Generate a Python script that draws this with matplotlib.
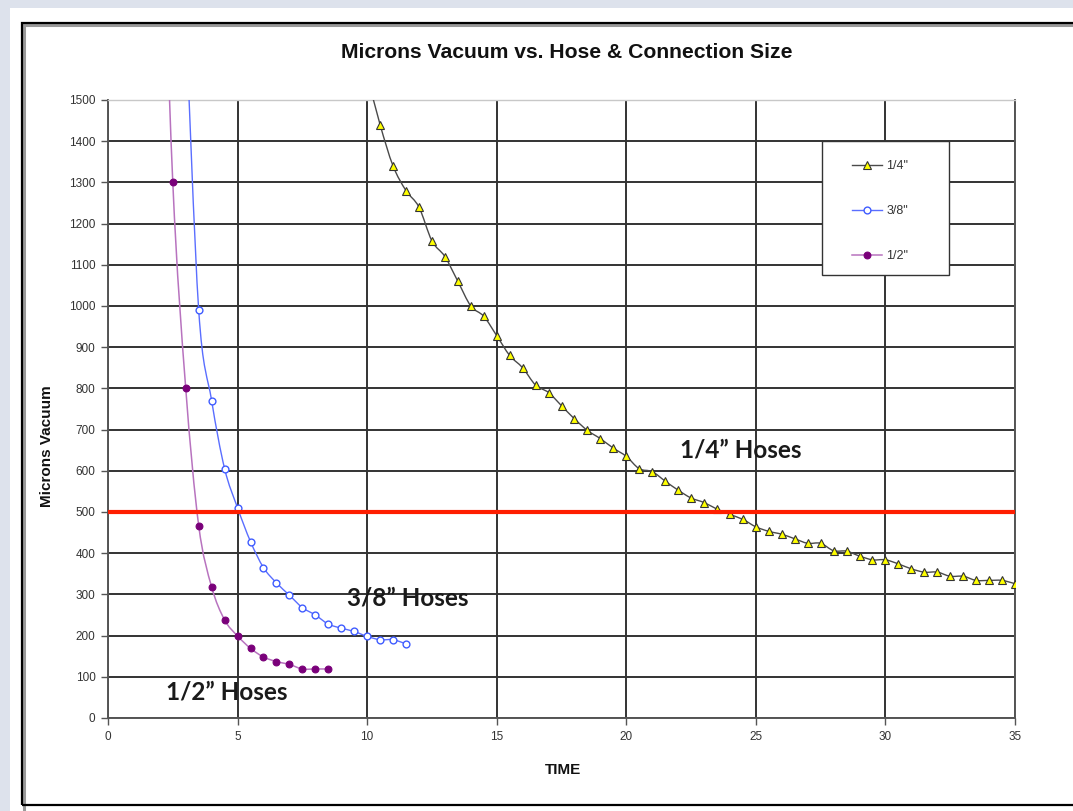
"""
plot.py
Microns vacuum vs. hose & connection size, drawn with matplotlib
"""

import matplotlib
matplotlib.use("Agg")
from matplotlib import pyplot as plt
from matplotlib.path import Path
from matplotlib.patches import PathPatch, Rectangle
from matplotlib.lines import Line2D

# Data (first point of each series lies above the top of the axis)
QUARTER_X = [10, 10.5, 11, 11.5, 12, 12.5, 13, 13.5, 14, 14.5, 15, 15.5, 16, 16.5, 17,
             17.5, 18, 18.5, 19, 19.5, 20, 20.5, 21, 21.5, 22, 22.5, 23, 23.5, 24, 24.5,
             25, 25.5, 26, 26.5, 27, 27.5, 28, 28.5, 29, 29.5, 30, 30.5, 31, 31.5, 32,
             32.5, 33, 33.5, 34, 34.5, 35]
QUARTER_Y = [1560, 1440, 1340, 1280, 1240, 1158, 1120, 1060, 1000, 975, 928, 880, 850, 808, 790,
             758, 726, 698, 678, 655, 635, 605, 598, 575, 553, 534, 523, 507, 494, 482,
             464, 453, 446, 435, 424, 424, 406, 405, 393, 384, 384, 374, 362, 354, 354,
             344, 344, 334, 334, 334, 326]

THREE_EIGHTHS_X = [3, 3.5, 4, 4.5, 5, 5.5, 6, 6.5, 7, 7.5, 8, 8.5, 9, 9.5, 10, 10.5, 11, 11.5]
THREE_EIGHTHS_Y = [1700, 990, 770, 605, 510, 428, 365, 328, 298, 268, 250, 228, 218, 210, 198,
                   190, 190, 180]

HALF_X = [2, 2.5, 3, 3.5, 4, 4.5, 5, 5.5, 6, 6.5, 7, 7.5, 8, 8.5]
HALF_Y = [2200, 1300, 800, 467, 318, 238, 199, 169, 148, 137, 130, 119, 119, 119]

SERIES_LABELS = ['1/4"', '3/8"', '1/2"']
TARGET_MICRONS = 500

X_TICKS = list(range(0, 36, 5))
Y_TICKS = list(range(0, 1501, 100))

# Styles
ARIAL = ['Liberation Sans', 'DejaVu Sans']
CALIBRI = ['Lato', 'DejaVu Sans']
GRID_COLOR = '#333333'
AXIS_COLOR = '#555555'
TEXT_COLOR = '#333333'
RED = '#ff1e00'

W, H = 1073, 811


def smooth_path(xs, ys):
    """ Excel-like smoothed line as a cubic Bezier path through the points """
    pts = list(zip(xs, ys))
    verts = [pts[0]]
    codes = [Path.MOVETO]
    n = len(pts)
    for i in range(n - 1):
        p0 = pts[i - 1] if i > 0 else pts[i]
        p1 = pts[i]
        p2 = pts[i + 1]
        p3 = pts[i + 2] if i + 2 < n else pts[i + 1]
        c1 = (p1[0] + (p2[0] - p0[0]) / 6, p1[1] + (p2[1] - p0[1]) / 6)
        c2 = (p2[0] - (p3[0] - p1[0]) / 6, p2[1] - (p3[1] - p1[1]) / 6)
        verts += [c1, c2, p2]
        codes += [Path.CURVE4] * 3
    return Path(verts, codes)


fig = plt.figure(figsize=(W / 100, H / 100), dpi=100, facecolor='#dde2ec')

# Slide background and chart area frame (behind the axes)
fig.patches.append(Rectangle((10 / W, 0), 1, 1 - 8 / H, transform=fig.transFigure,
                             facecolor='white', edgecolor='none', zorder=-3))
fig.patches.append(Rectangle((24 / W, -0.01), 1.2, 1 - 25 / H + 0.01, transform=fig.transFigure,
                             facecolor='none', edgecolor='#9a9a9a', linewidth=2.2, zorder=-2))
fig.patches.append(Rectangle((22 / W, 6 / H), 1.2, 1 - 29 / H, transform=fig.transFigure,
                             facecolor='none', edgecolor='black', linewidth=1.6, zorder=-1))

ax = fig.add_axes([108 / W, 1 - 718 / H, (1015 - 108) / W, (718 - 100) / H])
ax.set_facecolor('none')
ax.set_xlim(0, 35)
ax.set_ylim(0, 1500)
ax.set_xticks(X_TICKS)
ax.set_yticks(Y_TICKS)
ax.grid(True, color=GRID_COLOR, linewidth=1.4, zorder=0)
ax.set_axisbelow(True)
ax.yaxis.get_gridlines()[-1].set_visible(False)
ax.tick_params(direction='out', length=5, width=1, color=AXIS_COLOR,
               labelsize=8.5, labelcolor=TEXT_COLOR, pad=4)
for lab in ax.get_xticklabels() + ax.get_yticklabels():
    lab.set_family(ARIAL)
for side in ['left', 'bottom', 'right']:
    ax.spines[side].set_color(AXIS_COLOR)
    ax.spines[side].set_linewidth(1.4)
ax.spines['top'].set_color('#c8c8c8')
ax.spines['top'].set_linewidth(1.0)

series = [
    (QUARTER_X, QUARTER_Y, dict(color='#4a4a4a', lw=1.0, marker='^', mfc='#ffff00',
                                mec='#333333', ms=5.6, mew=0.8)),
    (THREE_EIGHTHS_X, THREE_EIGHTHS_Y, dict(color='#5a6eff', lw=1.0, marker='o', mfc='white',
                                            mec='#3f5cff', ms=4.9, mew=1.0)),
    (HALF_X, HALF_Y, dict(color='#b873bf', lw=1.1, marker='o', mfc='#7a007a',
                          mec='#7a007a', ms=4.9, mew=0.8)),
]

handles = []
for (xs, ys, st), label in zip(series, SERIES_LABELS):
    ax.add_patch(PathPatch(smooth_path(xs, ys), facecolor='none', edgecolor=st['color'],
                           linewidth=st['lw'], zorder=3))
    ax.plot(xs, ys, linestyle='none', marker=st['marker'], markerfacecolor=st['mfc'],
            markeredgecolor=st['mec'], markersize=st['ms'], markeredgewidth=st['mew'], zorder=4)
    handles.append(Line2D([], [], color=st['color'], linewidth=st['lw'], marker=st['marker'],
                          markerfacecolor=st['mfc'], markeredgecolor=st['mec'],
                          markersize=st['ms'], markeredgewidth=st['mew'], label=label))

ax.axhline(TARGET_MICRONS, color=RED, linewidth=3.0, zorder=5)

# Legend box is wider than its entries, so the frame is drawn on its own
ax.add_patch(Rectangle((0.787, 0.717), 0.140, 0.217, transform=ax.transAxes,
                       facecolor='white', edgecolor='#333333', linewidth=1.0, zorder=7))
leg = ax.legend(handles=handles, loc='upper left', bbox_to_anchor=(0.820, 0.903),
                prop={'family': ARIAL, 'size': 9}, frameon=False, labelspacing=2.65,
                handlelength=2.4, handletextpad=0.35, borderpad=0, borderaxespad=0)
leg.set_zorder(8)
for t in leg.get_texts():
    t.set_color(TEXT_COLOR)

ax.text(22.08, 650, '1/4\u201d Hoses', fontsize=17.5, fontweight='bold', family=CALIBRI,
        color='#1a1a1a', va='center', ha='left', zorder=6)
ax.text(9.22, 291, '3/8\u201d Hoses', fontsize=17.5, fontweight='bold', family=CALIBRI,
        color='#1a1a1a', va='center', ha='left', zorder=6)
ax.text(2.24, 63, '1/2\u201d Hoses', fontsize=17.5, fontweight='bold', family=CALIBRI,
        color='#1a1a1a', va='center', ha='left', zorder=6)

fig.text(567 / W, 1 - 52 / H, 'Microns Vacuum vs. Hose & Connection Size', family=ARIAL,
         fontweight='bold', fontsize=15.2, ha='center', va='center', color='#111111')
fig.text(47 / W, 1 - 446 / H, 'Microns Vacuum', family=ARIAL, fontweight='bold',
         fontsize=11, rotation=90, ha='center', va='center', color='#111111')
fig.text(563 / W, 1 - 770 / H, 'TIME', family=ARIAL, fontweight='bold',
         fontsize=11, ha='center', va='center', color='#111111')

fig.savefig('out.png', dpi=100, facecolor=fig.get_facecolor())
